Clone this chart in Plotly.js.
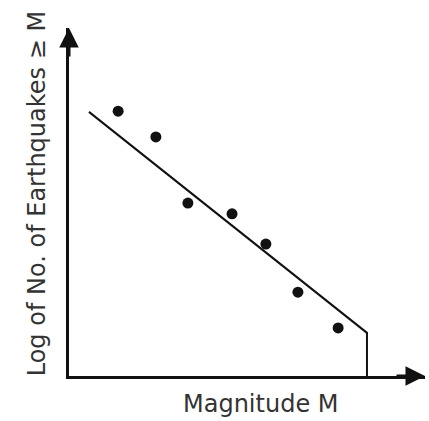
<!DOCTYPE html>
<html>
<head>
<meta charset="utf-8">
<script src="https://cdn.plot.ly/plotly-3.0.1.min.js"></script>
<style>html,body{margin:0;padding:0;background:#fff;}#chart{width:429px;height:421px;}</style>
</head>
<body>
<div id="chart"></div>
<script>
// Observed data points (magnitude, log count) in arbitrary units
const magnitude = [1.38, 2.44, 3.34, 4.58, 5.53, 6.43, 7.56];
const logCount = [7.61, 6.87, 4.97, 4.66, 3.79, 2.41, 1.38];
// Fitted line (ends with a drop to the axis at the maximum magnitude)
const fitX = [0.56, 8.37, 8.37];
const fitY = [7.59, 1.24, 0];
const xTitle = "Magnitude M";
const yTitle = "Log of No. of Earthquakes ≥ M";

const font = "DejaVu Sans, Arial, sans-serif";
const data = [
  {x: fitX, y: fitY, mode: "lines", line: {color: "#111", width: 2}, hoverinfo: "skip"},
  {x: magnitude, y: logCount, mode: "markers", marker: {color: "#111", size: 11}}
];
const axisBase = {showgrid: false, zeroline: false, showticklabels: false, ticks: "",
  showline: true, linecolor: "#111", linewidth: 3, fixedrange: true};
const layout = {
  width: 429, height: 421,
  margin: {l: 69, r: 4, t: 28, b: 45},
  paper_bgcolor: "#fff", plot_bgcolor: "#fff",
  showlegend: false,
  xaxis: Object.assign({}, axisBase, {range: [0, 10]}),
  yaxis: Object.assign({}, axisBase, {range: [0, 10]}),
  annotations: [
    {xref: "paper", yref: "paper", x: 1, y: 0, ax: -30, ay: 0, showarrow: true,
     arrowhead: 2, arrowsize: 1.3, arrowwidth: 3, arrowcolor: "#111", text: "", standoff: 0},
    {xref: "paper", yref: "paper", x: 0, y: 1, ax: 0, ay: 30, showarrow: true,
     arrowhead: 2, arrowsize: 1.3, arrowwidth: 3, arrowcolor: "#111", text: "", standoff: 0},
    {xref: "paper", yref: "paper", x: 0.537, y: -0.08, showarrow: false, text: xTitle,
     font: {family: font, size: 24, color: "#333"}, xanchor: "center", yanchor: "middle"},
    {xref: "paper", yref: "paper", x: -0.09, y: 0.525, showarrow: false, text: yTitle, textangle: -90,
     font: {family: font, size: 24, color: "#333"}, xanchor: "center", yanchor: "middle"}
  ]
};
Plotly.newPlot("chart", data, layout, {staticPlot: true, displayModeBar: false});
</script>
</body>
</html>
